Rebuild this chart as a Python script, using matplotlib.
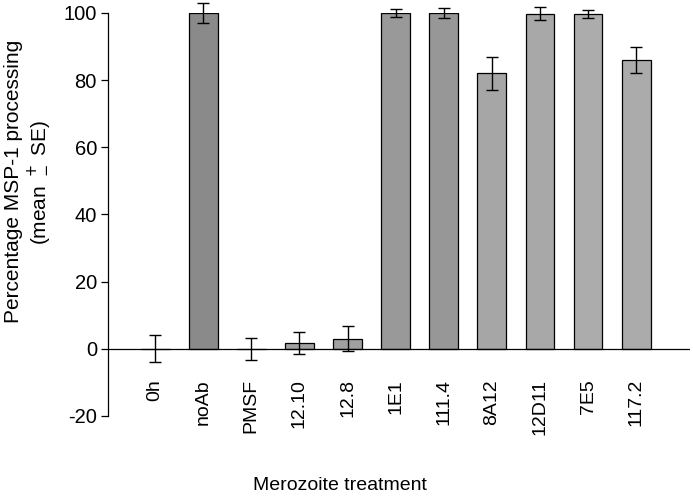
import numpy as np
import matplotlib.pyplot as plt

# data
treatments = ['0h', 'noAb', 'PMSF', '12.10', '12.8', '1E1', '111.4', '8A12', '12D11', '7E5', '117.2']
processing = [0, 100, 0, 1.8, 3, 100, 100, 82, 99.8, 99.7, 86]
se = [4, 3, 3.2, 3.2, 3.8, 1.2, 1.6, 5, 2, 1.2, 4]
bar_colors = ['#b0b0b0', '#8a8a8a', '#b0b0b0', '#a2a2a2', '#a0a0a0', '#999999',
              '#979797', '#a6a6a6', '#a8a8a8', '#acacac', '#ababab']

plt.rcParams['font.family'] = ['Liberation Sans', 'DejaVu Sans']
plt.rcParams['axes.unicode_minus'] = False

fig = plt.figure(figsize=(6.93, 4.98), dpi=100)
ax = fig.add_axes([0.156, 0.1647, 0.8397, 0.8093])

x = np.arange(len(treatments))
ax.bar(x, processing, width=0.6, color=bar_colors, edgecolor='black', linewidth=0.9)
ax.errorbar(x, processing, yerr=se, fmt='none', ecolor='black', elinewidth=1,
            capsize=4.5, capthick=1, clip_on=False)

# zero line instead of bottom spine
ax.axhline(0, color='black', linewidth=0.9)

ax.set_xlim(-0.977, 11.12)
ax.set_ylim(-20, 100)
ax.set_yticks([-20, 0, 20, 40, 60, 80, 100])
ax.tick_params(axis='y', direction='out', length=5, width=0.9, labelsize=14.5, pad=3)
ax.set_xticks([])
for s in ['top', 'right', 'bottom']:
    ax.spines[s].set_visible(False)
ax.spines['left'].set_linewidth(0.9)

# category labels hanging below the zero line
for i, name in enumerate(treatments):
    ax.text(i, -9, name, rotation=90, ha='center', va='top', fontsize=14)

# y label, two lines placed separately
fig.text(14 / 693, 1 - 181 / 498, 'Percentage MSP-1 processing', rotation=90,
         ha='center', va='center', fontsize=15)
fig.text(39 / 693, 1 - 183 / 498, '(mean $^+_-$ SE)', rotation=90,
         ha='center', va='center', fontsize=15)

fig.text(340 / 693, 1 - 485 / 498, 'Merozoite treatment', ha='center', va='center', fontsize=14)

fig.savefig('out.png', dpi=100)
